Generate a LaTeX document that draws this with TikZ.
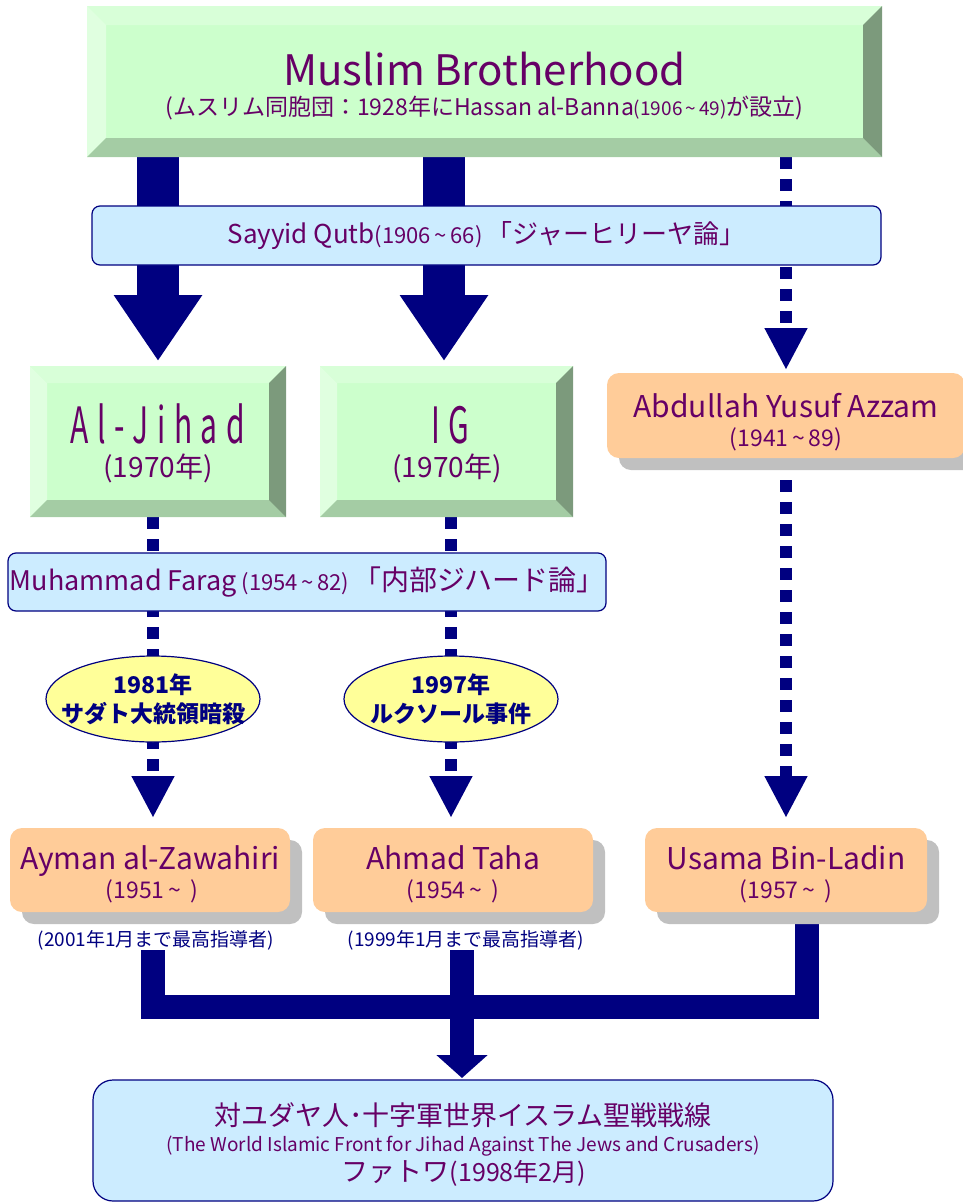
\documentclass[tikz,border=0pt]{standalone}
\usepackage{fontspec}
\setmainfont{Noto Sans CJK JP}
\newfontfamily\condfont[FakeStretch=0.6,LetterSpace=17]{Noto Sans CJK JP}
\usetikzlibrary{arrows.meta,shapes.geometric,shadows,calc}
\pgfdeclarelayer{bg}
\pgfsetlayers{bg,main}
\definecolor{txt}{HTML}{660066}
\definecolor{navy}{HTML}{000080}
\definecolor{face}{HTML}{CCFFCC}
\definecolor{bvtop}{HTML}{D8FFD8}
\definecolor{bvleft}{HTML}{E0FFE0}
\definecolor{bvbot}{HTML}{A4CCA4}
\definecolor{bvright}{HTML}{7C9A7C}
\definecolor{lblue}{HTML}{CCECFF}
\definecolor{orng}{HTML}{FFCC99}
\definecolor{shgray}{HTML}{C0C0C0}
\definecolor{yel}{HTML}{FFFF99}
\newcommand\fsz[2]{\fontsize{#1}{#2}\selectfont}
\newcommand\tld{\,\textasciitilde\,}
\newcommand\bevel[2]{%
  \fill[bvtop] (#1.north west) -- (#1.north east) -- ($(#1.north east)+(-#2,#2)$) -- ($(#1.north west)+(#2,#2)$) -- cycle;
  \fill[bvleft] (#1.north west) -- ($(#1.north west)+(#2,#2)$) -- ($(#1.south west)+(#2,-#2)$) -- (#1.south west) -- cycle;
  \fill[bvbot] (#1.south west) -- ($(#1.south west)+(#2,-#2)$) -- ($(#1.south east)+(-#2,-#2)$) -- (#1.south east) -- cycle;
  \fill[bvright] (#1.north east) -- (#1.south east) -- ($(#1.south east)+(-#2,-#2)$) -- ($(#1.north east)+(-#2,#2)$) -- cycle;
}
\tikzset{
  bevelbox/.style={rectangle, fill=face, outer sep=0pt, inner sep=0pt},
  lbl/.style={text=txt, inner sep=0pt, anchor=base},
  bluebox/.style={rectangle, rounded corners=8pt, fill=lblue, draw=navy, line width=1.2pt, outer sep=0pt, inner sep=0pt, text=txt, align=center},
  orangebox/.style={rectangle, rounded corners=12pt, fill=orng, outer sep=0pt, inner sep=0pt,
     minimum width=280pt, minimum height=84pt,
     drop shadow={shadow xshift=12pt, shadow yshift=-12pt, fill=shgray, opacity=1}},
  namefont/.style={font=\fsz{30}{31}},
  datefont/.style={font=\fsz{23}{24}},
  event/.style={ellipse, fill=yel, draw=navy, line width=1.2pt, minimum width=214pt, minimum height=86pt, inner sep=0pt},
  eventtext/.style={text=navy, inner sep=0pt, anchor=base, font=\bfseries\fsz{23}{27}},
  note/.style={text=navy, inner sep=0pt, font=\fsz{19}{20}},
  bigarrow/.style={navy, line width=42pt, line cap=butt, -{Triangle[length=66pt,width=84pt]}},
  dotarrow/.style={navy, line width=12pt, line cap=butt, dash pattern=on 12pt off 10pt, -{Triangle[length=42pt,width=40pt]}},
  conn/.style={navy, line width=24pt, line cap=butt, line join=miter},
}
\begin{document}
\begin{tikzpicture}[x=1pt,y=-1pt]
\useasboundingbox (0,0) rectangle (963,1202);

% top box
\node[bevelbox, minimum width=795pt, minimum height=151pt] (mb) at (484.5,81.5) {};
\bevel{mb}{19}
\node[lbl, font=\fsz{42}{44}] (mbt) at (484.5,85) {Muslim Brotherhood};
\node[lbl, font=\fsz{23}{24}] (mbs) at (484.5,115) {(ムスリム同胞団：1928年にHassan al-Banna{\fsz{19}{24}(1906\tld49)}が設立)};

% Sayyid Qutb
\node[bluebox, minimum width=789pt, minimum height=59pt, font=\fsz{26}{30}] (qutb) at (486.5,235.5) {Sayyid Qutb{\fsz{22}{30}(1906\tld66)}\,「ジャーヒリーヤ論」};

% Al-Jihad & IG
\node[bevelbox, minimum width=256pt, minimum height=151pt] (jihad) at (158,441.5) {};
\bevel{jihad}{17}
\node[lbl, font=\condfont\fsz{50}{52}] (jihadt) at (158,443) {Al-Jihad};
\node[lbl, font=\fsz{28}{30}] (jihadd) at (158,477) {(1970年)};
\node[bevelbox, minimum width=253pt, minimum height=151pt] (ig) at (446.5,441.5) {};
\bevel{ig}{17}
\node[lbl, font=\condfont\fsz{50}{52}] (igt) at (450,443) {IG};
\node[lbl, font=\fsz{28}{30}] (igd) at (447,477) {(1970年)};

% Azzam
\node[orangebox, minimum width=358pt, minimum height=85pt] (azzam) at (786,415.5) {};
\node[lbl, namefont] (azzamN) at (786,417) {Abdullah Yusuf Azzam};
\node[lbl, datefont] (azzamD) at (786,446) {(1941\tld89)};

% Farag
\node[bluebox, minimum width=598pt, minimum height=58pt, font=\fsz{27}{30}] (farag) at (307,582) {Muhammad Farag\,{\fsz{22}{30}(1954\tld82)}\,{\fsz{28}{30}「内部ジハード論」}};

% events
\node[event] (e1) at (153,699) {};
\node[eventtext] (e1a) at (153,693) {1981年};
\node[eventtext] (e1b) at (153,722) {サダト大統領暗殺};
\node[event] (e2) at (451,699) {};
\node[eventtext] (e2a) at (451,693) {1997年};
\node[eventtext] (e2b) at (451,722) {ルクソール事件};

% leaders
\node[orangebox] (ayman) at (150,870) {};
\node[lbl, namefont] (aymanN) at (150,869) {Ayman al-Zawahiri};
\node[lbl, datefont] (aymanD) at (152,898) {(1951\tld\ )};
\node[orangebox] (taha) at (453,870) {};
\node[lbl, namefont] (tahaN) at (453,869) {Ahmad Taha};
\node[lbl, datefont] (tahaD) at (453,898) {(1954\tld\ )};
\node[orangebox, minimum width=282pt] (usama) at (786,870) {};
\node[lbl, namefont] (usamaN) at (786,869) {Usama Bin-Ladin};
\node[lbl, datefont] (usamaD) at (786,898) {(1957\tld\ )};

\node[note] (n1) at (156,940) {(2001年1月まで最高指導者)};
\node[note] (n2) at (466,940) {(1999年1月まで最高指導者)};

% final
\node[bluebox, rounded corners=20pt, minimum width=740pt, minimum height=121pt] (front) at (463,1140.5) {};
\node[lbl, font=\fsz{27}{28}] (frontA) at (463,1125) {対ユダヤ人･十字軍世界イスラム聖戦戦線};
\node[lbl, font=\fsz{19}{20}] (frontB) at (463,1151) {(The World Islamic Front for Jihad Against The Jews and Crusaders)};
\node[lbl, font=\fsz{27}{28}] (frontC) at (464,1181) {ファトワ{\fsz{25}{28}(1998年2月)}};

\coordinate (barL) at (153,1006.5);
\coordinate (barM) at (462,1006.5);
\coordinate (barR) at (807,1006.5);

\begin{pgfonlayer}{bg}
\draw[bigarrow, shorten >=5pt] (jihad.north |- mb.south) -- (jihad.north);
\draw[bigarrow, shorten >=5pt] ([xshift=-2.5pt]ig.north |- mb.south) -- ([xshift=-2.5pt]ig.north);
\draw[dotarrow, shorten >=3pt] (azzam.north |- mb.south) -- (azzam.north);
\draw[dotarrow, shorten >=10pt] (azzam.south) -- (usama.north);
\draw[dotarrow, shorten >=10pt] (e1.center |- jihad.south) -- (e1.center |- ayman.north);
\draw[dotarrow, shorten >=10pt] (e2.center |- ig.south) -- (e2.center |- taha.north);
\draw[conn] (barL |- n1.south) -- (barL) -- (barR) -- (barR |- usama.south);
\draw[conn] (barM |- n2.south) -- (barM);
\draw[conn, -{Triangle[length=23pt,width=50pt]}, shorten >=2pt] (barM) -- (barM |- front.north);
\end{pgfonlayer}
\end{tikzpicture}
\end{document}
